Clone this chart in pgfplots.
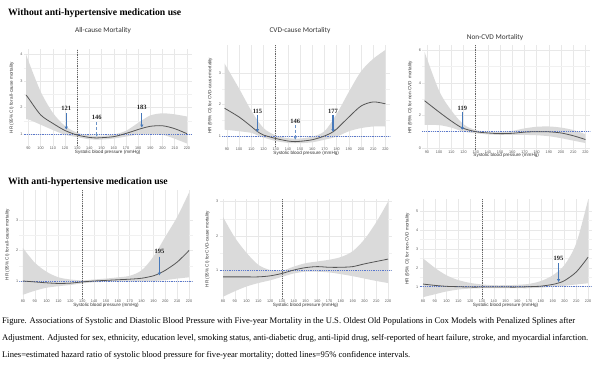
\documentclass[border=0pt]{standalone}
\usepackage{fontspec}
\setmainfont{Liberation Serif}
\newfontfamily\axfont{Liberation Sans}
\newfontfamily\titlefont{Carlito}
\usepackage{pgfplots}
\pgfplotsset{compat=1.18}
\usepgfplotslibrary{fillbetween}
\usetikzlibrary{arrows.meta}
\definecolor{bandgray}{RGB}{218,218,218}
\definecolor{curvecol}{RGB}{85,85,85}
\definecolor{refblue}{RGB}{90,120,205}
\definecolor{arrblue}{RGB}{70,120,185}
\definecolor{gridcol}{RGB}{232,232,232}
\tikzset{alab/.style={font=\bfseries\fontsize{6.5}{7}\selectfont, text=black!85}}
\pgfplotsset{
  panel/.style={scale only axis, anchor=south west,
    axis line style={draw=none}, tick style={draw=none},
    grid=both, minor x tick num=0, minor y tick num=1,
    major grid style={gridcol, line width=0.5pt},
    minor grid style={gridcol!60, line width=0.4pt},
    tick label style={font=\axfont\fontsize{3.8}{4}\selectfont, text=black!65},
    /pgf/number format/assume math mode=true,
    xticklabel style={inner sep=1pt},
    yticklabel style={inner sep=1pt},
    label style={font=\axfont\fontsize{4.6}{5}\selectfont, text=black!80},
    xlabel={Systolic blood pressure (mmHg)},
    xlabel style={yshift=4.5pt},
    ylabel style={yshift=2pt},
  },
  toprow/.style={xmin=86, xmax=224, xtick={90,100,...,220}, width=168.2pt},
  botrow/.style={xmin=77, xmax=223, xtick={80,90,...,220}},
  band/.style={fill=bandgray, draw=none},
  curve/.style={curvecol, line width=0.8pt, smooth},
  bnd/.style={draw=none, smooth},
  refl/.style={refblue, dash pattern=on 0.8pt off 1pt, line width=0.6pt},
  vl/.style={black!60, dash pattern=on 1.2pt off 1pt, line width=0.5pt},
  arr/.style={arrblue, line width=1.1pt, -{Latex[length=3pt,width=3.4pt]}},
  arrd/.style={arrblue!80, densely dashed, line width=0.8pt, -{Latex[length=2.5pt,width=2.8pt]}},
}
\begin{document}
\begin{tikzpicture}
% ---------- Top-left: all-cause, without ----------
\begin{axis}[panel, toprow, at={(23.6pt,228.1pt)}, height=96.7pt,
  ymin=0.55, ymax=4.2, ytick={1,2,3,4},
  ylabel={HR (95\% CI) for all-cause mortality}]
\addplot[bnd, name path=U1] coordinates {(88,4.02) (90,3.75) (100,2.6) (110,1.8) (120,1.3) (130,1.05) (140,0.95) (150,0.93) (160,0.98) (170,1.12) (180,1.42) (190,1.7) (200,1.78) (210,1.74) (220,1.66)};
\addplot[bnd, name path=L1] coordinates {(88,1.55) (90,1.55) (100,1.35) (110,1.15) (120,0.97) (130,0.88) (140,0.8) (150,0.79) (160,0.83) (170,0.9) (180,0.98) (190,1.0) (200,0.97) (210,0.82) (220,0.64)};
\addplot[band] fill between[of=U1 and L1];
\addplot[vl] coordinates {(130,0.55) (130,4.2)};
\addplot[refl] coordinates {(86,1) (224,1)};
\addplot[curve] coordinates {(88,2.47) (90,2.35) (100,1.72) (110,1.4) (120,1.13) (130,0.96) (140,0.87) (146,0.85) (150,0.86) (160,0.9) (170,1.02) (180,1.17) (183,1.21) (190,1.29) (200,1.31) (210,1.2) (220,1.01)};
\addplot[arr] coordinates {(121,1.79) (121,1.16)};
\addplot[arrd] coordinates {(146,1.45) (146,0.9)};
\addplot[arr] coordinates {(183,1.79) (183,1.24)};
\node[alab] at (axis cs:121,1.98) {121};
\node[alab] at (axis cs:146,1.64) {146};
\node[alab] at (axis cs:183,2.02) {183};
\end{axis}
% ---------- Top-middle: CVD, without ----------
\begin{axis}[panel, toprow, at={(222.1pt,227pt)}, height=102.4pt,
  ymin=0.65, ymax=3.9, ytick={1,2,3},
  ylabel={HR (95\% CI) for CVD-cause mortality}]
\addplot[bnd, name path=U2] coordinates {(88,3.3) (100,2.5) (110,1.8) (120,1.25) (130,1.02) (140,0.93) (150,0.92) (160,0.98) (170,1.15) (180,1.7) (190,2.4) (200,3.05) (210,3.45) (220,3.73)};
\addplot[bnd, name path=L2] coordinates {(88,1.2) (100,1.15) (110,1.1) (115,1.02) (120,0.95) (130,0.84) (140,0.78) (150,0.77) (160,0.8) (170,0.88) (180,0.98) (190,1.15) (200,1.25) (210,1.3) (220,1.3)};
\addplot[band] fill between[of=U2 and L2];
\addplot[vl] coordinates {(130,0.65) (130,3.9)};
\addplot[refl] coordinates {(86,1) (224,1)};
\addplot[curve] coordinates {(88,1.88) (100,1.6) (110,1.3) (115,1.14) (120,1.03) (130,0.92) (140,0.84) (146,0.82) (150,0.83) (160,0.88) (170,1.0) (177,1.13) (180,1.22) (190,1.6) (200,1.95) (210,2.08) (220,2.02)};
\addplot[arr] coordinates {(115,1.67) (115,1.12)};
\addplot[arrd] coordinates {(146,1.35) (146,0.88)};
\addplot[arr] coordinates {(177,1.67) (177,1.12)};
\node[alab] at (axis cs:115,1.77) {115};
\node[alab] at (axis cs:146,1.45) {146};
\node[alab] at (axis cs:177,1.77) {177};
\end{axis}
% ---------- Top-right: non-CVD, without ----------
\begin{axis}[panel, toprow, at={(422.1pt,224.4pt)}, height=104.3pt,
  ymin=-0.1, ymax=6.3, ytick={0,2,4,6},
  ylabel={HR (95\% CI) for non-CVD\ \ mortality}]
\addplot[bnd, name path=U3] coordinates {(88,5.9) (100,3.5) (110,2.3) (120,1.45) (130,1.1) (140,1.0) (150,0.98) (160,1.05) (170,1.2) (180,1.3) (190,1.32) (200,1.25) (210,1.1) (220,0.85)};
\addplot[bnd, name path=L3] coordinates {(88,1.42) (100,1.4) (110,1.25) (120,1.0) (130,0.9) (140,0.83) (150,0.8) (160,0.8) (170,0.8) (180,0.78) (190,0.72) (200,0.6) (210,0.45) (220,0.3)};
\addplot[band] fill between[of=U3 and L3];
\addplot[vl] coordinates {(130,-0.1) (130,6.3)};
\addplot[refl] coordinates {(86,1) (224,1)};
\addplot[curve] coordinates {(88,2.9) (100,2.2) (110,1.65) (119,1.23) (130,1.0) (140,0.92) (150,0.88) (160,0.9) (170,0.97) (180,1.0) (190,0.99) (200,0.92) (210,0.75) (220,0.52)};
\addplot[arrblue, line width=1.1pt] coordinates {(119,2.23) (119,1.23)};
\addplot[arrblue, only marks, mark=*, mark size=1.3pt] coordinates {(119,1.23)};
\node[alab] at (axis cs:119,2.44) {119};
\end{axis}
% ---------- Bottom-left: all-cause, with ----------
\begin{axis}[panel, botrow, at={(19.4pt,75pt)}, width=173.2pt, height=108.9pt,
  ymin=0.41, ymax=3.98, ytick={1,2,3},
  ylabel={HR (95\% CI) for all-cause mortality}]
\addplot[bnd, name path=U4] coordinates {(80,2.08) (90,1.6) (100,1.3) (110,1.12) (120,1.05) (130,1.02) (140,1.05) (150,1.08) (160,1.12) (170,1.17) (180,1.35) (190,1.8) (200,2.45) (210,3.1) (220,3.9)};
\addplot[bnd, name path=L4] coordinates {(80,0.55) (90,0.68) (100,0.78) (110,0.83) (120,0.87) (130,0.92) (140,0.96) (150,0.97) (160,0.98) (170,0.98) (180,0.99) (190,1.0) (200,1.03) (210,1.08) (220,1.12)};
\addplot[band] fill between[of=U4 and L4];
\addplot[vl] coordinates {(130,0.41) (130,3.98)};
\addplot[refl] coordinates {(77,1) (223,1)};
\addplot[curve] coordinates {(80,1.0) (90,0.97) (100,0.94) (110,0.92) (120,0.93) (130,0.97) (140,1.0) (150,1.02) (160,1.04) (170,1.06) (180,1.09) (190,1.17) (195,1.25) (200,1.35) (210,1.62) (220,2.0)};
\addplot[arr] coordinates {(195,1.8) (195,1.18)};
\node[alab] at (axis cs:195,1.96) {195};
\end{axis}
% ---------- Bottom-middle: CVD, with ----------
\begin{axis}[panel, botrow, at={(219.5pt,74.9pt)}, width=172.1pt, height=100.2pt,
  ymin=0.15, ymax=3.08, ytick={1,2,3},
  ylabel={HR (95\% CI) for CVD-cause mortality}]
\addplot[bnd, name path=U5] coordinates {(80,2.55) (90,1.95) (100,1.5) (110,1.15) (120,1.0) (130,0.98) (140,1.1) (150,1.2) (160,1.25) (170,1.3) (180,1.38) (190,1.55) (200,1.9) (210,2.4) (220,3.0)};
\addplot[bnd, name path=L5] coordinates {(80,0.22) (90,0.38) (100,0.52) (110,0.62) (120,0.7) (130,0.8) (140,0.9) (150,0.95) (160,0.95) (170,0.93) (180,0.88) (190,0.82) (200,0.75) (210,0.68) (220,0.62)};
\addplot[band] fill between[of=U5 and L5];
\addplot[vl] coordinates {(130,0.15) (130,3.08)};
\addplot[refl] coordinates {(77,1) (223,1)};
\addplot[curve] coordinates {(80,0.8) (90,0.8) (100,0.8) (110,0.8) (120,0.83) (130,0.9) (140,1.0) (150,1.07) (160,1.1) (170,1.08) (180,1.08) (190,1.1) (200,1.18) (210,1.25) (220,1.32)};
\end{axis}
% ---------- Bottom-right: non-CVD, with ----------
\begin{axis}[panel, botrow, at={(419.5pt,75pt)}, width=172.1pt, height=100pt,
  ymin=0.35, ymax=5.64, ytick={1,2,3,4,5},
  ylabel={HR (95\% CI) for non-CVD mortality}]
\addplot[bnd, name path=U6] coordinates {(80,2.5) (90,2.0) (100,1.6) (110,1.35) (120,1.2) (130,1.12) (140,1.08) (150,1.08) (160,1.1) (170,1.15) (180,1.3) (190,1.6) (200,2.15) (210,3.3) (220,5.6)};
\addplot[bnd, name path=L6] coordinates {(80,0.45) (90,0.6) (100,0.75) (110,0.85) (120,0.9) (130,0.92) (140,0.92) (150,0.92) (160,0.92) (170,0.92) (180,0.95) (190,1.0) (200,1.05) (210,1.12) (220,1.18)};
\addplot[band] fill between[of=U6 and L6];
\addplot[vl] coordinates {(130,0.35) (130,5.64)};
\addplot[refl] coordinates {(77,1) (223,1)};
\addplot[curve] coordinates {(80,1.14) (90,1.07) (100,1.02) (110,1.0) (120,0.98) (130,0.98) (140,0.98) (150,0.98) (160,0.98) (170,1.0) (180,1.03) (190,1.12) (195,1.2) (200,1.32) (210,1.78) (220,2.56)};
\addplot[arr] coordinates {(195,2.25) (195,1.24)};
\node[alab] at (axis cs:195,2.5) {195};
\end{axis}
% ---------- Texts ----------
\node[anchor=west, inner sep=0pt, font=\bfseries\fontsize{9.7}{10}\selectfont] at (8pt,361pt) {Without anti-hypertensive medication use};
\node[anchor=west, inner sep=0pt, font=\bfseries\fontsize{9.7}{10}\selectfont] at (8pt,192pt) {With anti-hypertensive medication use};
\node[inner sep=0pt, font=\titlefont\fontsize{7.3}{8}\selectfont, text=black!80] at (103pt,343pt) {All-cause Mortality};
\node[inner sep=0pt, font=\titlefont\fontsize{7.3}{8}\selectfont, text=black!80] at (300pt,343pt) {CVD-cause Mortality};
\node[inner sep=0pt, font=\titlefont\fontsize{7.3}{8}\selectfont, text=black!80] at (495pt,336pt) {Non-CVD Mortality};
\node[anchor=base west, inner sep=0pt, font=\fontsize{8.6}{10}\selectfont] at (2pt,50pt) {\hbox to 573pt{Figure. Associations of Systolic and Diastolic Blood Pressure with Five-year Mortality in the U.S. Oldest Old Populations in Cox Models with Penalized Splines after}};
\node[anchor=base west, inner sep=0pt, font=\fontsize{8.6}{10}\selectfont] at (2pt,33pt) {\hbox to 586pt{Adjustment. Adjusted for sex, ethnicity, education level, smoking status, anti-diabetic drug, anti-lipid drug, self-reported of heart failure, stroke, and myocardial infarction.}};
\node[anchor=base west, inner sep=0pt, font=\fontsize{8.6}{10}\selectfont] at (2pt,16pt) {Lines=estimated hazard ratio of systolic blood pressure for five-year mortality; dotted lines=95\% confidence intervals.};
\pgfresetboundingbox
\path[use as bounding box] (0,0) rectangle (600pt,374pt);
\end{tikzpicture}
\end{document}
